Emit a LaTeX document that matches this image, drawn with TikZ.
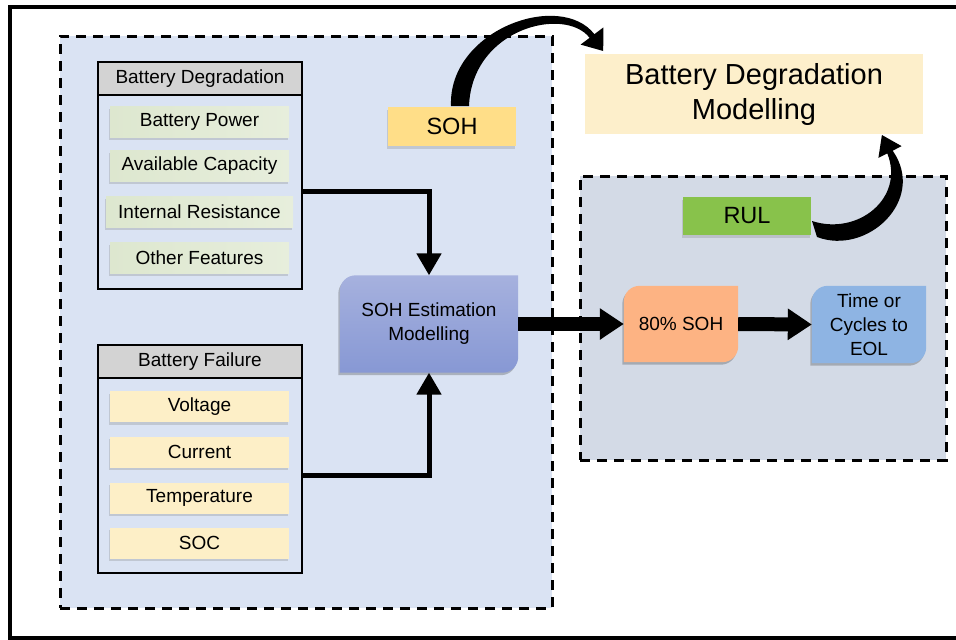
\documentclass[tikz,border=0pt]{standalone}
\usepackage{fontspec}
\setmainfont{Liberation Sans}
\usetikzlibrary{arrows.meta,shadows,calc}
\definecolor{panelL}{HTML}{DAE3F3}
\definecolor{panelR}{HTML}{D3DAE6}
\definecolor{hdrgray}{HTML}{D3D3D3}
\definecolor{itemgL}{HTML}{DDE7CF}
\definecolor{itemgR}{HTML}{E7EEDC}
\definecolor{itemyel}{HTML}{FDEFC7}
\definecolor{sohlab}{HTML}{FFDE88}
\definecolor{titlebg}{HTML}{FDEFCB}
\definecolor{rulg}{HTML}{88C24B}
\definecolor{estT}{HTML}{A6B1DE}
\definecolor{estB}{HTML}{8798D4}
\definecolor{orng}{HTML}{FDB383}
\definecolor{eolb}{HTML}{8EB4E3}
\pgfdeclarelayer{panel}
\pgfdeclarelayer{boxbg}
\pgfsetlayers{panel,boxbg,main}
\newcommand\diagfill[2]{%
\begin{pgfonlayer}{boxbg}
\fill[black,opacity=0.22,transform canvas={shift={(-1.5pt,-2.5pt)}}] ([yshift=-16pt]#1.north west) .. controls ([yshift=-7pt]#1.north west) and ([xshift=7pt]#1.north west) .. ([xshift=16pt]#1.north west) -- (#1.north east) -- ([yshift=16pt]#1.south east) .. controls ([yshift=7pt]#1.south east) and ([xshift=-7pt]#1.south east) .. ([xshift=-16pt]#1.south east) -- (#1.south west) -- cycle;
\path[#2] ([yshift=-16pt]#1.north west) .. controls ([yshift=-7pt]#1.north west) and ([xshift=7pt]#1.north west) .. ([xshift=16pt]#1.north west) -- (#1.north east) -- ([yshift=16pt]#1.south east) .. controls ([yshift=7pt]#1.south east) and ([xshift=-7pt]#1.south east) .. ([xshift=-16pt]#1.south east) -- (#1.south west) -- cycle;
\end{pgfonlayer}}
\tikzset{
 every node/.style={font=\fontsize{19}{24}\selectfont, align=center, inner sep=0pt},
 sh/.style={drop shadow={shadow xshift=-1.5pt, shadow yshift=-2.5pt, opacity=0.28}},
 itemg/.style={rectangle, minimum width=179pt, minimum height=31pt, left color=itemgL, right color=itemgR, sh},
 itemy/.style={rectangle, minimum width=179pt, minimum height=31pt, fill=itemyel, sh},
 grp/.style={draw, line width=2.5pt, minimum width=204pt},
 hdr/.style={draw, line width=2.5pt, fill=hdrgray, minimum width=204pt, minimum height=33pt},
 panelbox/.style={draw, line width=3pt, dash pattern=on 10pt off 7pt},
 elbow/.style={line width=5pt, -{Triangle[length=22pt,width=24pt]}},
 block/.style={line width=14pt, -{Triangle[length=24pt,width=30pt]}},
 diagbox/.style={rectangle, minimum width=114pt},
 labelbox/.style={rectangle, minimum width=128pt, font=\fontsize{23.5}{28}\selectfont, sh},
}
\begin{document}
\begin{tikzpicture}[x=1pt,y=-1pt]
\useasboundingbox (0,0) rectangle (956,640);
% outer frame
\draw[line width=4pt] (956,7) -- (10,7) -- (10,638) -- (956,638);
% panels
\begin{pgfonlayer}{panel}
\node[panelbox, fill=panelL, minimum width=492pt, minimum height=572pt] (leftpanel) at (306,322) {};
\node[panelbox, fill=panelR, minimum width=366pt, minimum height=284pt] (rightpanel) at (763,318) {};
\end{pgfonlayer}
% Battery Degradation group
\node[grp, minimum height=227pt] (deg) at (200,175.5) {};
\node[hdr] (degh) at (200,78.5) {Battery Degradation};
\node[itemg] (bp) at (199.5,121.5) {Battery Power};
\node[itemg] (ac) at (199.5,166) {Available Capacity};
\node[itemg, minimum width=187pt] (ir) at (199.5,211.5) {Internal Resistance};
\node[itemg] (of) at (199.5,257.5) {Other Features};
% Battery Failure group
\node[grp, minimum height=228pt] (fail) at (200,459) {};
\node[hdr] (failh) at (200,361.5) {Battery Failure};
\node[itemy] (volt) at (199.5,406.5) {Voltage};
\node[itemy] (curr) at (199.5,452) {Current};
\node[itemy] (temp) at (199.5,498) {Temperature};
\node[itemy] (soc) at (199.5,543) {SOC};
% diagonal boxes
\node[diagbox, minimum width=178pt, minimum height=97pt] (est) at (429,324) {SOH Estimation\\Modelling};
\diagfill{est}{top color=estT, bottom color=estB}
\node[diagbox, minimum height=76pt] (soh80) at (681,324) {80\% SOH};
\diagfill{soh80}{fill=orng}
\node[diagbox, minimum height=77pt] (eol) at (869,324.5) {Time or\\Cycles to\\EOL};
\diagfill{eol}{fill=eolb}
% labels
\node[labelbox, fill=sohlab, minimum height=39pt] (soh) at (452,126.5) {SOH};
\node[labelbox, fill=rulg, minimum height=38pt] (rul) at (747,216) {RUL};
\node[rectangle, fill=titlebg, minimum width=338pt, minimum height=80pt, font=\fontsize{29}{35}\selectfont] (title) at (754,94) {Battery Degradation\\Modelling};
% connectors
\draw[elbow] ([yshift=-16pt]deg.east) -| (est.north);
\draw[elbow] ([yshift=-16pt]fail.east) -| (est.south);
\draw[block] (est.east) -- (soh80.west);
\draw[block] (soh80.east) -- (eol.west);
% curved arrows
\fill (451,106) .. controls (448,30) and (560,-10) .. (594.4,34.2) -- (603.4,27.4) -- (603.2,51) -- (580.6,44.6) -- (589.6,37.8) .. controls (565,6) and (472,28) .. (469,106) -- cycle;
\fill (817,237) .. controls (867,256) and (927,200) .. (892.7,150.7) -- (901.6,146.1) -- (881.9,135) -- (878.4,157.9) -- (887.3,153.4) .. controls (905,198) and (858,236) .. (812,221) -- cycle;
\end{tikzpicture}
\end{document}
